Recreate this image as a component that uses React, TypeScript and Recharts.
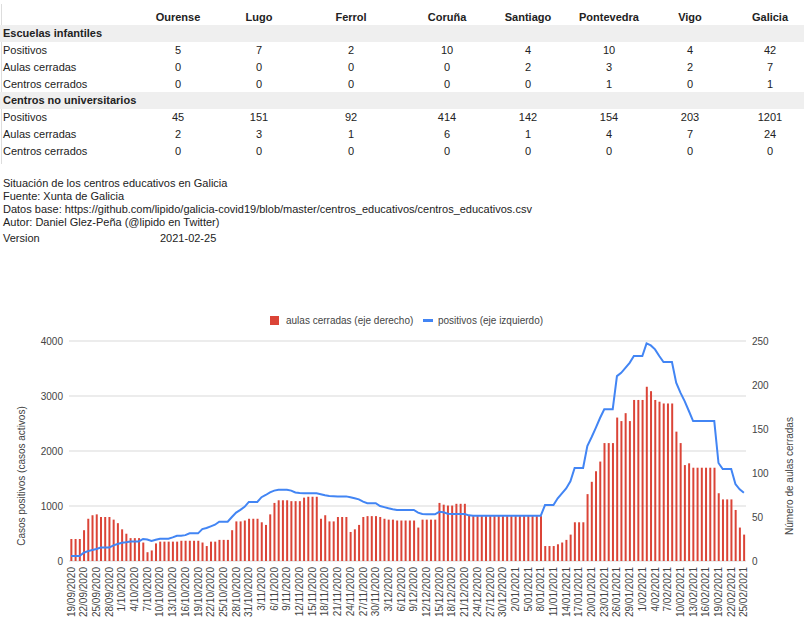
import { ComposedChart, Bar, Line, XAxis, YAxis, CartesianGrid } from "recharts";

const FONT = '"Liberation Sans", Arial, sans-serif';
const RED = "#db4437";
const BLUE = "#4285f4";

// table at the top
const provinces = ["Ourense", "Lugo", "Ferrol", "Coruña", "Santiago", "Pontevedra", "Vigo", "Galicia"];
const infantilPositivos = [5, 7, 2, 10, 4, 10, 4, 42];
const infantilAulas = [0, 0, 0, 0, 2, 3, 2, 7];
const infantilCentros = [0, 0, 0, 0, 0, 1, 0, 1];
const noUnivPositivos = [45, 151, 92, 414, 142, 154, 203, 1201];
const noUnivAulas = [2, 3, 1, 6, 1, 4, 7, 24];
const noUnivCentros = [0, 0, 0, 0, 0, 0, 0, 0];
const colX = [178, 259, 351, 447, 528, 609, 690, 770];

const infoLines = [
  "Situación de los centros educativos en Galicia",
  "Fuente: Xunta de Galicia",
  "Datos base: https://github.com/lipido/galicia-covid19/blob/master/centros_educativos/centros_educativos.csv",
  "Autor: Daniel Glez-Peña (@lipido en Twitter)",
];

// chart series
const dates = [
  "19/09/2020", "20/09/2020", "21/09/2020", "22/09/2020", "23/09/2020", "24/09/2020", "25/09/2020", "26/09/2020",
  "27/09/2020", "28/09/2020", "29/09/2020", "30/09/2020",
  "1/10/2020", "2/10/2020", "3/10/2020", "4/10/2020", "5/10/2020", "6/10/2020", "7/10/2020", "8/10/2020",
  "9/10/2020", "10/10/2020", "11/10/2020", "12/10/2020", "13/10/2020", "14/10/2020", "15/10/2020", "16/10/2020",
  "17/10/2020", "18/10/2020", "19/10/2020", "20/10/2020", "21/10/2020", "22/10/2020", "23/10/2020", "24/10/2020",
  "25/10/2020", "26/10/2020", "27/10/2020", "28/10/2020", "29/10/2020", "30/10/2020", "31/10/2020",
  "1/11/2020", "2/11/2020", "3/11/2020", "4/11/2020", "5/11/2020", "6/11/2020", "7/11/2020", "8/11/2020",
  "9/11/2020", "10/11/2020", "11/11/2020", "12/11/2020", "13/11/2020", "14/11/2020", "15/11/2020", "16/11/2020",
  "17/11/2020", "18/11/2020", "19/11/2020", "20/11/2020", "21/11/2020", "22/11/2020", "23/11/2020", "24/11/2020",
  "25/11/2020", "26/11/2020", "27/11/2020", "28/11/2020", "29/11/2020", "30/11/2020",
  "1/12/2020", "2/12/2020", "3/12/2020", "4/12/2020", "5/12/2020", "6/12/2020", "7/12/2020", "8/12/2020",
  "9/12/2020", "10/12/2020", "11/12/2020", "12/12/2020", "13/12/2020", "14/12/2020", "15/12/2020", "16/12/2020",
  "17/12/2020", "18/12/2020", "19/12/2020", "20/12/2020", "21/12/2020", "22/12/2020", "23/12/2020", "24/12/2020",
  "25/12/2020", "26/12/2020", "27/12/2020", "28/12/2020", "29/12/2020", "30/12/2020", "31/12/2020",
  "1/01/2021", "2/01/2021", "3/01/2021", "4/01/2021", "5/01/2021", "6/01/2021", "7/01/2021", "8/01/2021",
  "9/01/2021", "10/01/2021", "11/01/2021", "12/01/2021", "13/01/2021", "14/01/2021", "15/01/2021", "16/01/2021",
  "17/01/2021", "18/01/2021", "19/01/2021", "20/01/2021", "21/01/2021", "22/01/2021", "23/01/2021", "24/01/2021",
  "25/01/2021", "26/01/2021", "27/01/2021", "28/01/2021", "29/01/2021", "30/01/2021", "31/01/2021",
  "1/02/2021", "2/02/2021", "3/02/2021", "4/02/2021", "5/02/2021", "6/02/2021", "7/02/2021", "8/02/2021",
  "9/02/2021", "10/02/2021", "11/02/2021", "12/02/2021", "13/02/2021", "14/02/2021", "15/02/2021", "16/02/2021",
  "17/02/2021", "18/02/2021", "19/02/2021", "20/02/2021", "21/02/2021", "22/02/2021", "23/02/2021", "24/02/2021",
  "25/02/2021",
];

// aulas cerradas (right axis)
const aulasCerradas = [
  25, 25, 25, 35, 48, 52, 53, 50, 50, 50, 47, 43, 36, 31, 26, 26, 26, 21, 10, 12,
  20, 22, 22, 22, 22, 22, 23, 23, 23, 23, 23, 21, 17, 22, 22, 24, 24, 24, 35, 45,
  45, 46, 48, 48, 48, 44, 41, 53, 66, 69, 69, 69, 68, 68, 68, 72, 73, 73, 73, 48,
  52, 45, 45, 50, 50, 50, 33, 36, 41, 50, 51, 51, 51, 50, 48, 47, 47, 46, 46, 46,
  46, 46, 38, 47, 47, 47, 47, 66, 64, 63, 63, 65, 65, 65, 52, 51, 51, 51, 51, 51,
  51, 51, 51, 51, 51, 51, 51, 51, 51, 51, 51, 51, 17, 17, 17, 19, 21, 24, 30, 44,
  44, 44, 76, 90, 102, 113, 134, 134, 134, 163, 159, 168, 159, 183, 183, 183, 198, 193, 183, 181,
  179, 179, 179, 147, 134, 109, 111, 106, 106, 106, 106, 106, 106, 77, 70, 70, 70, 58, 38, 30,
];

// positivos (left axis)
const positivos = [
  90, 90, 90, 150, 180, 200, 218, 245, 245, 245, 285, 310, 333, 340, 355, 355, 355, 400, 390, 365,
  385, 406, 406, 406, 430, 460, 460, 470, 503, 503, 503, 580, 600, 630, 660, 715, 715, 715, 800, 880,
  930, 985, 1075, 1075, 1075, 1160, 1200, 1248, 1280, 1295, 1295, 1295, 1280, 1245, 1235, 1230, 1230, 1230, 1230, 1215,
  1195, 1180, 1178, 1175, 1175, 1175, 1158, 1140, 1121, 1079, 1050, 1050, 1050, 1000, 980, 958, 940, 927, 927, 927,
  927, 927, 880, 855, 850, 850, 850, 895, 885, 860, 855, 855, 855, 855, 830, 824, 824, 824, 824, 824,
  824, 824, 824, 824, 824, 824, 824, 824, 824, 824, 824, 824, 1018, 1018, 1018, 1140, 1230, 1320, 1450, 1690,
  1690, 1690, 2090, 2250, 2420, 2600, 2760, 2760, 2760, 3362, 3422, 3512, 3603, 3726, 3726, 3726, 3957, 3920, 3848, 3726,
  3616, 3616, 3616, 3242, 3060, 2908, 2727, 2545, 2545, 2545, 2545, 2545, 2545, 1782, 1673, 1673, 1673, 1400, 1303, 1242,
];

const leftTicks = [0, 1000, 2000, 3000, 4000];
const rightTicks = [0, 50, 100, 150, 200, 250];

const chartData = dates.map((d, i) => ({ date: d, aulas: aulasCerradas[i], positivos: positivos[i] }));

const ROW_H = 16.75;
const TABLE_TOP = 8.6;

function DateTick(props: any) {
  const { x, y, payload } = props;
  return (
    <text
      x={x}
      y={y}
      transform={`rotate(-90, ${x}, ${y})`}
      textAnchor="end"
      dy="0.35em"
      fontSize={10}
      fill="#444"
      fontFamily={FONT}
    >
      {payload.value}
    </text>
  );
}

function DataTable() {
  const rows: { label: string; values?: number[]; section?: boolean }[] = [
    { label: "Escuelas infantiles", section: true },
    { label: "Positivos", values: infantilPositivos },
    { label: "Aulas cerradas", values: infantilAulas },
    { label: "Centros cerrados", values: infantilCentros },
    { label: "Centros no universitarios", section: true },
    { label: "Positivos", values: noUnivPositivos },
    { label: "Aulas cerradas", values: noUnivAulas },
    { label: "Centros cerrados", values: noUnivCentros },
  ];
  const cell = (top: number, left: number, text: string | number, bold = false, center = true) => (
    <div
      style={{
        position: "absolute",
        top,
        left: center ? left - 50 : left,
        width: center ? 100 : 300,
        height: ROW_H,
        lineHeight: `${ROW_H}px`,
        textAlign: center ? "center" : "left",
        fontWeight: bold ? "bold" : "normal",
      }}
    >
      {text}
    </div>
  );
  return (
    <div style={{ position: "absolute", left: 0, top: 0, width: 804, height: 170, fontSize: 11, color: "#222" }}>
      <div style={{ position: "absolute", left: 1, top: 4, width: 1, height: 160, background: "#ddd" }} />
      {provinces.map((p, i) => cell(TABLE_TOP, colX[i], p, true))}
      {rows.map((r, k) => {
        const top = TABLE_TOP + ROW_H * (k + 1);
        if (r.section) {
          return (
            <div key={k}>
              <div style={{ position: "absolute", left: 0, top, width: 804, height: ROW_H, background: "#efefef" }} />
              {cell(top, 3, r.label, true, false)}
            </div>
          );
        }
        return (
          <div key={k}>
            {cell(top, 3, r.label, false, false)}
            {r.values!.map((v, i) => cell(top, colX[i], v))}
          </div>
        );
      })}
    </div>
  );
}

export default function App() {
  return (
    <div
      style={{
        position: "absolute",
        left: 0,
        top: 0,
        width: 804,
        height: 627,
        background: "#fff",
        fontFamily: FONT,
        overflow: "hidden",
      }}
    >
      <DataTable />

      {/* description block */}
      <div style={{ position: "absolute", left: 3, top: 177, fontSize: 11, color: "#222", lineHeight: "13px" }}>
        {infoLines.map((l) => (
          <div key={l}>{l}</div>
        ))}
        <div style={{ position: "relative", height: 16, lineHeight: "18px" }}>
          <span>Version</span>
          <span style={{ position: "absolute", left: 157 }}>2021-02-25</span>
        </div>
      </div>

      {/* legend */}
      <div style={{ position: "absolute", left: 270, top: 316, width: 9, height: 9, background: RED }} />
      <div style={{ position: "absolute", left: 286, top: 314, fontSize: 10, color: "#444", lineHeight: "13px" }}>
        aulas cerradas (eje derecho)
      </div>
      <div style={{ position: "absolute", left: 423, top: 319, width: 10, height: 3, background: BLUE }} />
      <div style={{ position: "absolute", left: 438, top: 314, fontSize: 10, color: "#444", lineHeight: "13px" }}>
        positivos (eje izquierdo)
      </div>

      {/* axis titles */}
      <div
        style={{
          position: "absolute",
          left: 22 - 100,
          top: 476 - 7,
          width: 200,
          height: 14,
          lineHeight: "14px",
          textAlign: "center",
          fontSize: 10,
          color: "#444",
          transform: "rotate(-90deg)",
        }}
      >
        Casos positivos (casos activos)
      </div>
      <div
        style={{
          position: "absolute",
          left: 790 - 100,
          top: 476 - 7,
          width: 200,
          height: 14,
          lineHeight: "14px",
          textAlign: "center",
          fontSize: 10,
          color: "#444",
          transform: "rotate(-90deg)",
        }}
      >
        Número de aulas cerradas
      </div>

      <div style={{ position: "absolute", left: 0, top: 300 }}>
        <ComposedChart
          width={804}
          height={327}
          data={chartData}
          margin={{ top: 41, right: 0, left: 0, bottom: 0 }}
          barCategoryGap="32%"
        >
          <CartesianGrid yAxisId="left" vertical={false} stroke="#d9d9d9" />
          <XAxis
            dataKey="date"
            interval={2}
            height={66}
            tickLine={false}
            axisLine={false}
            tickSize={4}
            tickMargin={2}
            tick={(p: any) => <DateTick {...p} />}
          />
          <YAxis
            yAxisId="left"
            orientation="left"
            width={69}
            domain={[0, 4000]}
            ticks={leftTicks}
            tickLine={false}
            axisLine={false}
            tickSize={4}
            tickMargin={2}
            tick={{ fontSize: 10, fill: "#444", fontFamily: FONT }}
          />
          <YAxis
            yAxisId="right"
            orientation="right"
            width={58}
            domain={[0, 250]}
            ticks={rightTicks}
            tickLine={false}
            axisLine={false}
            tickSize={4}
            tickMargin={2}
            tick={{ fontSize: 10, fill: "#444", fontFamily: FONT, textAnchor: "start" }}
          />
          <Bar yAxisId="right" dataKey="aulas" fill={RED} isAnimationActive={false} />
          <Line
            yAxisId="left"
            type="linear"
            dataKey="positivos"
            stroke={BLUE}
            strokeWidth={2}
            dot={false}
            isAnimationActive={false}
          />
        </ComposedChart>
      </div>
    </div>
  );
}
